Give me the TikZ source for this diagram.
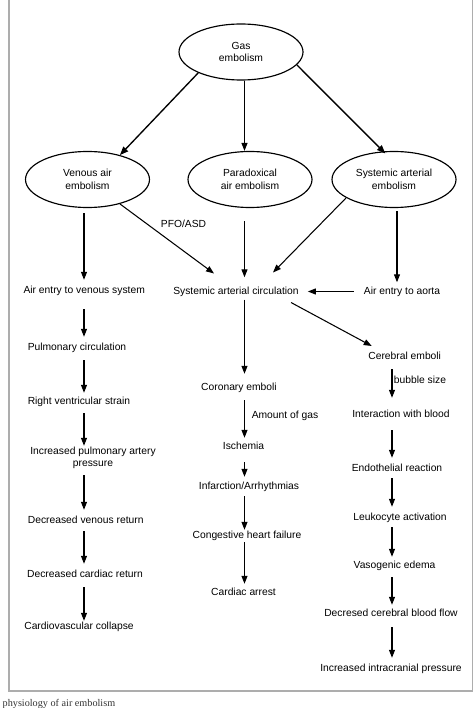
\documentclass[tikz,border=0pt]{standalone}
\usepackage{fontspec}
\setmainfont{Liberation Sans}
\newfontfamily\capfont{Liberation Serif}
\usetikzlibrary{shapes.geometric,arrows.meta}
\tikzset{
  every node/.style={font=\fontsize{10.3}{12.4}\selectfont, text=black},
  oval/.style={ellipse, draw, line width=1.15pt, minimum width=124pt, minimum height=56pt, inner sep=0pt, align=center},
  lbl/.style={inner sep=0pt, text height=7.5pt, text depth=2.5pt},
  lbl2/.style={inner sep=0pt, align=center},
  arr/.style={line width=1.05pt, -{Triangle[length=8pt,width=6pt]}},
  darr/.style={line width=1.35pt, -{Triangle[length=8.5pt,width=6.5pt]}},
  frame/.style={draw=black!32, line width=1.5pt}
}
\begin{document}
\begin{tikzpicture}[x=1pt,y=-1pt]
\useasboundingbox (0,0) rectangle (474,708);
\draw[frame] (9,-5) rectangle (472.5,691);

% ellipses
\node[oval] (gas) at (241,52) {Gas\\embolism};
\node[oval] (ven) at (87.5,179.5) {Venous air\\embolism};
\node[oval] (par) at (250,179.5) {Paradoxical\\air embolism};
\node[oval] (sys) at (394,179.5) {Systemic arterial\\embolism};

% column guides
\coordinate (cL) at (84,0);
\coordinate (cM) at (244.5,0);
\coordinate (cR) at (392,0);
\coordinate (cA) at (397,0);

% left column
\node[lbl] (aev) at (84.2,291) {Air entry to venous system};
\node[lbl] (pul) at (77,348) {Pulmonary circulation};
\node[lbl] (rvs) at (79,402) {Right ventricular strain};
\node[lbl2] (ipa) at (93,458) {Increased pulmonary artery\\pressure};
\node[lbl] (dvr) at (85.7,521) {Decreased venous return};
\node[lbl] (dcr) at (85,575) {Decreased cardiac return};
\node[lbl] (cvc) at (79,627) {Cardiovascular collapse};

% middle column
\node[lbl] (sac) at (236,291.5) {Systemic arterial circulation};
\node[lbl] (cor) at (239,388) {Coronary emboli};
\node[lbl] (isc) at (243.5,447) {Ischemia};
\node[lbl] (inf) at (249,487) {Infarction/Arrhythmias};
\node[lbl] (chf) at (247,536) {Congestive heart failure};
\node[lbl] (car) at (243.5,593) {Cardiac arrest};

% right column
\node[lbl] (aao) at (402,291.5) {Air entry to aorta};
\node[lbl] (cer) at (404.7,357) {Cerebral emboli};
\node[lbl] (iwb) at (401,415) {Interaction with blood};
\node[lbl] (end) at (397,469) {Endothelial reaction};
\node[lbl] (leu) at (400,518) {Leukocyte activation};
\node[lbl] (vas) at (394.5,566) {Vasogenic edema};
\node[lbl] (dcb) at (391,614) {Decresed cerebral blood flow};
\node[lbl] (iip) at (391,669) {Increased intracranial pressure};

% edge labels
\node[lbl] (pfo) at (183.5,225) {PFO/ASD};
\node[lbl] (aog) at (285,416) {Amount of gas};
\node[lbl] (bub) at (420,381) {bubble size};

% caption
\node[inner sep=0pt, anchor=base west, font=\capfont\fontsize{10.2}{12}\selectfont, text=black!80] (cap) at (2.5,706.5) {physiology of air embolism};

% top arrows
\draw[darr] (gas.206) -- (ven.37);
\draw[arr] (gas.south -| cM) -- (par.north -| cM);
\draw[darr, shorten >=-3pt] (gas.347) -- (sys.111);

% left column arrows
\draw[arr, shorten <=5pt, shorten >=6pt] (ven.south -| cL) -- (aev.north -| cL);
\draw[arr, shorten <=13pt, shorten >=6pt] (aev.south -| cL) -- (pul.north -| cL);
\draw[arr, shorten <=7pt, shorten >=4pt] (pul.south -| cL) -- (rvs.north -| cL);
\draw[arr, shorten <=6pt, shorten >=1pt] (rvs.south -| cL) -- (ipa.north -| cL);
\draw[arr, shorten <=6pt, shorten >=6pt] (ipa.south -| cL) -- (dvr.north -| cL);
\draw[arr, shorten <=5pt, shorten >=6pt] (dvr.south -| cL) -- (dcr.north -| cL);
\draw[arr, shorten <=7pt, shorten >=1pt] (dcr.south -| cL) -- (cvc.north -| cL);

% into systemic arterial circulation
\draw[arr] (ven.323) -- ([xshift=-22pt,yshift=18pt]sac.center);
\draw[arr, shorten <=13pt, shorten >=9pt] (par.south -| cM) -- (sac.north -| cM);
\draw[arr] (sys.201) -- ([xshift=37pt,yshift=19pt]sac.center);
\draw[arr, shorten <=10pt, shorten >=9pt] (aao.west) -- (sac.east);
\draw[arr, shorten <=3pt, shorten >=4pt] (sys.south -| cA) -- (aao.north -| cA);

% middle column arrows
\draw[arr, shorten <=3pt, shorten >=9pt] (sac.south -| cM) -- (cor.north -| cM);
\draw[arr, shorten <=7pt, shorten >=4pt] (cor.south -| cM) -- (isc.north -| cM);
\draw[arr, shorten <=10pt, shorten >=5pt] (isc.south -| cM) -- (inf.north -| cM);
\draw[arr, shorten <=4pt, shorten >=1pt] (inf.south -| cM) -- (chf.north -| cM);
\draw[arr, shorten <=1pt, shorten >=4pt] (chf.south -| cM) -- (car.north -| cM);

% right column arrows
\draw[arr] ([xshift=55pt,yshift=-11pt]sac.center) -- ([xshift=-33pt,yshift=11pt]cer.center);
\draw[arr, shorten <=7pt, shorten >=12pt] (cer.south -| cR) -- (iwb.north -| cR);
\draw[arr, shorten <=10pt, shorten >=6pt] (iwb.south -| cR) -- (end.north -| cR);
\draw[arr, shorten <=4pt, shorten >=6pt] (end.south -| cR) -- (leu.north -| cR);
\draw[arr, shorten <=4pt, shorten >=4pt] (leu.south -| cR) -- (vas.north -| cR);
\draw[arr, shorten <=6pt, shorten >=4pt] (vas.south -| cR) -- (dcb.north -| cR);
\draw[arr, shorten <=8pt, shorten >=6pt] (dcb.south -| cR) -- (iip.north -| cR);
\end{tikzpicture}
\end{document}
